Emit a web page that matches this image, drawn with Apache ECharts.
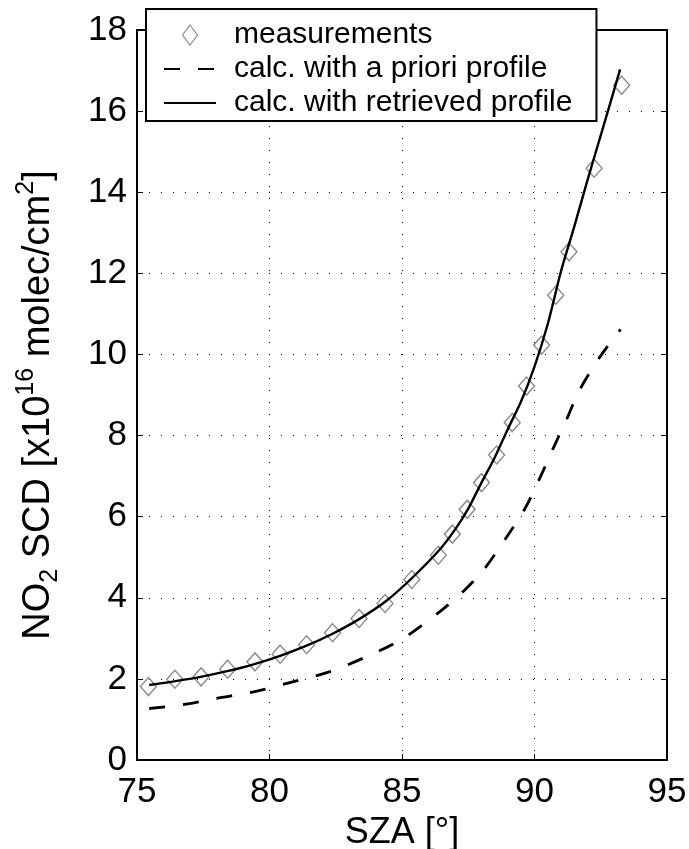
<!DOCTYPE html>
<html>
<head>
<meta charset="utf-8">
<script src="https://cdn.jsdelivr.net/npm/echarts@6/dist/echarts.min.js"></script>
<style>html,body{margin:0;padding:0;background:#fff}#c{width:689px;height:849px}</style>
</head>
<body>
<div id="c"></div>
<script>
// Measurements (SZA [deg], NO2 SCD [1e16 molec/cm2])
const measSZA = [75.43, 76.43, 77.42, 78.42, 79.45, 80.4, 81.4, 82.38, 83.38, 84.36, 85.37, 86.37, 86.9, 87.46, 88.0, 88.57, 89.16, 89.7, 90.27, 90.8, 91.3, 92.25, 93.29];
const measSCD = [1.81, 1.99, 2.05, 2.24, 2.42, 2.61, 2.84, 3.14, 3.49, 3.86, 4.45, 5.05, 5.57, 6.18, 6.84, 7.52, 8.32, 9.22, 10.23, 11.46, 12.53, 14.59, 16.64];
// Calculated with a priori profile
const aprioriSZA = [75.46, 76.7, 78.0, 79.4, 80.77, 82.28, 83.67, 85.05, 86.43, 87.3, 88.07, 88.95, 89.64, 90.2, 90.7, 91.2, 91.7, 92.47, 93.25];
const aprioriSCD = [1.27, 1.36, 1.52, 1.68, 1.91, 2.18, 2.55, 3.0, 3.66, 4.15, 4.68, 5.5, 6.2, 6.95, 7.68, 8.38, 9.12, 9.94, 10.62];
// Calculated with retrieved profile
const retrSZA = [75.46, 76.4, 77.4, 78.4, 79.4, 80.4, 81.4, 82.4, 83.4, 84.4, 85.4, 86.4, 87.0, 87.5, 88.0, 88.5, 89.0, 89.5, 90.0, 90.5, 91.0, 91.5, 92.0, 92.5, 93.23];
const retrSCD = [1.85, 1.94, 2.05, 2.19, 2.36, 2.57, 2.82, 3.12, 3.48, 3.92, 4.5, 5.17, 5.68, 6.2, 6.84, 7.46, 8.17, 8.85, 9.7, 10.75, 12.05, 13.15, 14.3, 15.4, 17.03];
const legendNames = ['measurements', 'calc. with a priori profile', 'calc. with retrieved profile'];

const zip = (a, b) => a.map((v, i) => [v, b[i]]);
const FONT = '"Liberation Sans", Arial, Helvetica, sans-serif';
const chart = echarts.init(document.getElementById('c'), null, {renderer: 'canvas'});

const dotted = {type: [1, 11], color: '#000', width: 1};
const frameAxis = {
  axisLine: {show: true, onZero: false, lineStyle: {color: '#000', width: 2}},
  axisTick: {show: true, inside: true, length: 6, lineStyle: {color: '#000', width: 1}},
};
const diamondPath = 'path://M0,-10 L7.5,0 L0,10 L-7.5,0 Z';

chart.setOption({
  animation: false,
  backgroundColor: '#fff',
  textStyle: {fontFamily: FONT},
  grid: {left: 137, right: 22, top: 30, bottom: 89, containLabel: false, outerBoundsMode: 'none'},
  legend: {
    data: [
      {name: legendNames[0], icon: diamondPath,
       itemStyle: {color: 'rgba(0,0,0,0)', borderColor: '#6e6e6e', borderWidth: 1.2}},
      {name: legendNames[1], itemStyle: {opacity: 0}},
      {name: legendNames[2], itemStyle: {opacity: 0}}
    ],
    left: 146, top: 9,
    orient: 'vertical',
    backgroundColor: '#fff',
    borderColor: '#000', borderWidth: 2,
    padding: [11, 24, 3, 17],
    itemWidth: 52, itemHeight: 20, itemGap: 4,
    symbolKeepAspect: true,
    textStyle: {fontSize: 30, lineHeight: 30, color: '#000', fontFamily: FONT, padding: [0, 0, 0, 13]}
  },
  xAxis: [
    Object.assign({
      type: 'value', min: 75, max: 95, interval: 5, position: 'bottom',
      axisLabel: {fontSize: 35, color: '#000', margin: 15, fontFamily: FONT},
      splitLine: {show: true, lineStyle: dotted},
      name: 'SZA [°]', nameLocation: 'middle', nameGap: 46,
      nameTextStyle: {fontSize: 36, color: '#000', fontFamily: FONT}
    }, frameAxis),
    Object.assign({
      type: 'value', min: 75, max: 95, interval: 5, position: 'top',
      axisLabel: {show: false}, splitLine: {show: false}
    }, frameAxis)
  ],
  yAxis: [
    Object.assign({
      type: 'value', min: 0, max: 18, interval: 2, position: 'left',
      axisLabel: {fontSize: 35, color: '#000', margin: 10, fontFamily: FONT},
      splitLine: {show: true, lineStyle: dotted},
      name: '{n|NO}{sub|2}{n| SCD [x10}{sup|16}{n| molec/cm}{sup|2}{n|]}',
      nameLocation: 'middle', nameGap: 74,
      nameTextStyle: {
        color: '#000', fontFamily: FONT, padding: [0, 20, 0, 0],
        rich: {
          n: {fontSize: 38, color: '#000', fontFamily: FONT},
          sub: {fontSize: 25, color: '#000', fontFamily: FONT, padding: [24, 0, 0, 0]},
          sup: {fontSize: 25, color: '#000', fontFamily: FONT, padding: [0, 0, 24, 0]}
        }
      }
    }, frameAxis),
    Object.assign({
      type: 'value', min: 0, max: 18, interval: 2, position: 'right',
      axisLabel: {show: false}, splitLine: {show: false}
    }, frameAxis)
  ],
  series: [
    {
      name: legendNames[0], type: 'scatter',
      data: zip(measSZA, measSCD),
      symbol: 'diamond', symbolSize: [16, 18],
      itemStyle: {color: 'rgba(0,0,0,0)', borderColor: '#6e6e6e', borderWidth: 1.4},
      z: 2
    },
    {
      name: legendNames[1], type: 'line',
      data: zip(aprioriSZA, aprioriSCD),
      smooth: 0.3, showSymbol: false, symbol: 'none',
      lineStyle: {color: '#000', width: 2.8, type: [16, 18]},
      itemStyle: {color: '#000'},
      z: 3
    },
    {
      name: legendNames[2], type: 'line',
      data: zip(retrSZA, retrSCD),
      smooth: 0.3, showSymbol: false, symbol: 'none',
      lineStyle: {color: '#000', width: 2.4, type: 'solid'},
      itemStyle: {color: '#000'},
      z: 3
    }
  ]
});
</script>
</body>
</html>
